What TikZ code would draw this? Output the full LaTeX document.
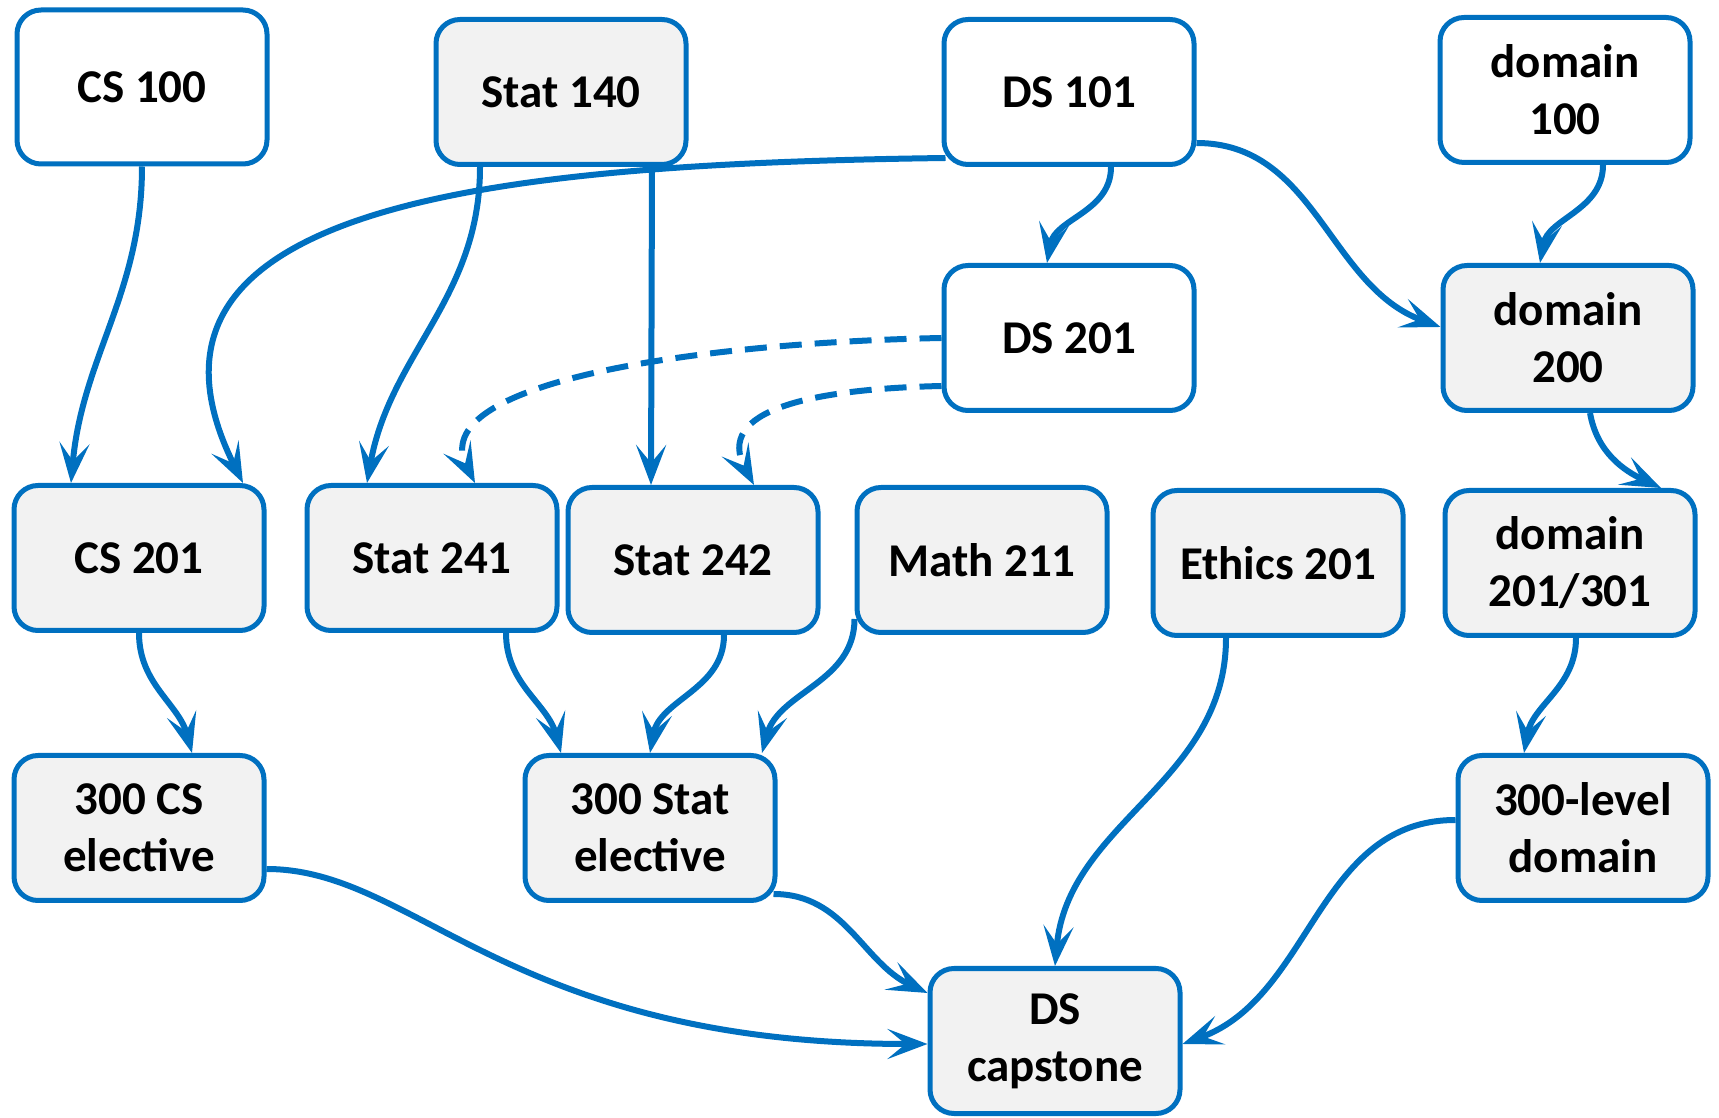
\documentclass[tikz,border=0pt]{standalone}
\usepackage{fontspec}
\setmainfont{Carlito}
\usepackage{xcolor}
\usepackage{tikz}
\usetikzlibrary{arrows.meta}
\definecolor{boxbg}{RGB}{242,242,242}
\definecolor{boxframe}{RGB}{0,112,192}

\begin{document}
\begin{tikzpicture}[x=1pt, y=1pt,
        box/.style={draw, rectangle, rounded corners=24pt, minimum width=250pt, minimum height=145pt, inner sep=0pt, align=center, fill=boxbg, draw=boxframe, line width=5pt, font=\fontsize{47}{57}\selectfont\bfseries},
        plainbox/.style={box, fill=white},
        arr/.style={-{Stealth[length=40pt, width=30pt, inset=18pt]}, draw=boxframe, line width=6pt},
        optarr/.style={arr, dash pattern=on 22pt off 13pt}
    ]
    \useasboundingbox (0,0) rectangle (1719,1117);

    \node[plainbox, minimum height=154pt] (cs100) at (142, 1030) {CS 100};
    \node[box] (stat140) at (561, 1025) {Stat 140};
    \node[plainbox] (ds101) at (1069, 1025) {DS 101};
    \node[plainbox] (dom100) at (1565, 1027) {domain\\100};
    \node[plainbox] (ds201) at (1069, 779) {DS 201};
    \node[box] (dom200) at (1568, 779) {domain\\200};

    \node[box] (cs201) at (139, 559) {CS 201};
    \node[box] (stat241) at (432, 559) {Stat 241};
    \node[box] (stat242) at (693, 557) {Stat 242};
    \node[box] (math211) at (982, 557) {Math 211};
    \node[box] (ethics201) at (1278, 554) {Ethics 201};
    \node[box] (dom201) at (1570, 554) {domain\\201/301};

    \node[box] (cs300) at (139, 289) {300 CS\\elective};
    \node[box] (stat300) at (650, 289) {300 Stat\\elective};
    \node[box] (dom300) at (1583, 289) {300-level\\domain};
    \node[box] (capstone) at (1055, 76) {DS\\capstone};

    % first year
    \draw[arr] (cs100.south) to[out=-90, in=85] ([xshift=-68pt]cs201.north);
    \draw[arr] ([xshift=4pt, yshift=-66pt]ds101.west) .. controls +(-450,-6) and +(-140,280) .. ([xshift=104pt]cs201.north);
    \draw[arr] ([xshift=-81pt]stat140.south) to[out=-90, in=80] ([xshift=-65pt]stat241.north);
    \draw[arr] ([xshift=91pt]stat140.south) -- ([xshift=-42pt]stat242.north);
    \draw[arr] ([xshift=42pt]ds101.south) to[out=-90, in=80] ([xshift=-22pt]ds201.north);
    \draw[arr] ([yshift=-51pt]ds101.east) to[out=0, in=160] ([yshift=11pt]dom200.west);
    \draw[arr] ([xshift=38pt]dom100.south) to[out=-90, in=80] ([xshift=-28pt]dom200.north);

    % recommended
    \draw[optarr] (ds201.west) .. controls +(-250,-5) and +(-50,100) .. ([xshift=43pt]stat241.north);
    \draw[optarr] ([yshift=-48pt]ds201.west) .. controls +(-130,-3) and +(-40,75) .. ([xshift=61pt]stat242.north);

    % second year
    \draw[arr] (cs201.south) to[out=-90, in=105] ([xshift=53pt]cs300.north);
    \draw[arr] ([xshift=74pt]stat241.south) to[out=-90, in=105] ([xshift=-89pt]stat300.north);
    \draw[arr] ([xshift=31pt]stat242.south) to[out=-90, in=80] (stat300.north);
    \draw[arr] ([yshift=16pt]math211.south west) to[out=-90, in=75] ([xshift=112pt]stat300.north);
    \draw[arr] ([xshift=22pt]dom200.south) to[out=-80, in=155] ([xshift=91pt]dom201.north);
    \draw[arr] ([xshift=6pt]dom201.south) to[out=-90, in=80] ([xshift=-59pt]dom300.north);

    % capstone
    \draw[arr] ([xshift=-52pt]ethics201.south) to[out=-90, in=85] (capstone.north);
    \draw[arr] ([yshift=8pt]dom300.west) to[out=180, in=20] ([yshift=-3pt]capstone.east);
    \draw[arr] ([yshift=-41pt]cs300.east) .. controls +(150,0) and +(-420,0) .. ([yshift=-3pt]capstone.west);
    \draw[arr] ([xshift=-4pt, yshift=-66pt]stat300.east) to[out=0, in=155] ([yshift=48pt]capstone.west);

\end{tikzpicture}
\end{document}
